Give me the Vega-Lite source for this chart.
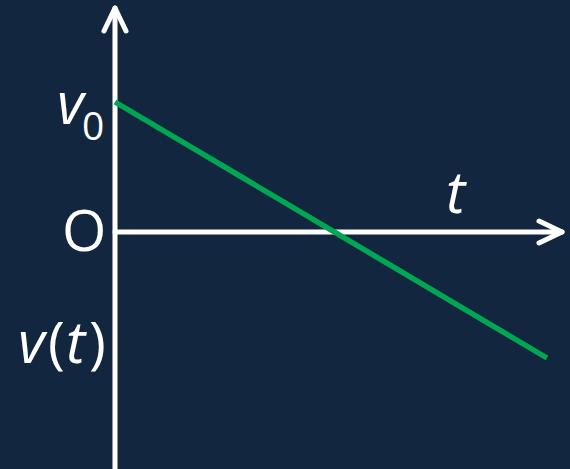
{
  "$schema": "https://vega.github.io/schema/vega-lite/v6.json",
  "width": 570,
  "height": 469,
  "padding": 0,
  "autosize": {"type": "none"},
  "background": "#12263F",
  "config": {"view": {"stroke": null}},
  "datasets": {
    "axes": [
      {"part": "vaxis", "k": 0, "t": 0, "v": -240},
      {"part": "vaxis", "k": 1, "t": 0, "v": 224},
      {"part": "haxis", "k": 0, "t": 0, "v": 0},
      {"part": "haxis", "k": 1, "t": 447, "v": 0},
      {"part": "varrow", "k": 0, "t": -11, "v": 201},
      {"part": "varrow", "k": 1, "t": 0, "v": 224},
      {"part": "varrow", "k": 2, "t": 11, "v": 201},
      {"part": "harrow", "k": 0, "t": 424, "v": 11},
      {"part": "harrow", "k": 1, "t": 447, "v": 0},
      {"part": "harrow", "k": 2, "t": 424, "v": -11}
    ],
    "motion": [
      {"t": 0, "v": 130},
      {"t": 432, "v": -126}
    ],
    "italic": [
      {"label": "v", "t": -58, "v": 108},
      {"label": "v", "t": -97, "v": -131},
      {"label": "t", "t": -49, "v": -131},
      {"label": "t", "t": 331, "v": 19}
    ],
    "upright": [
      {"label": "O", "t": -53, "v": -19},
      {"label": "(", "t": -67, "v": -131},
      {"label": ")", "t": -26, "v": -131}
    ],
    "subscript": [
      {"label": "0", "t": -33, "v": 92}
    ]
  },
  "encoding": {
    "x": {"field": "t", "type": "quantitative", "scale": {"domain": [-115, 455], "nice": false, "zero": false}, "axis": null},
    "y": {"field": "v", "type": "quantitative", "scale": {"domain": [-237, 232], "nice": false, "zero": false}, "axis": null}
  },
  "layer": [
    {
      "data": {"name": "axes"},
      "mark": {"type": "line", "color": "#FFFFFF", "strokeWidth": 5, "strokeCap": "round", "strokeJoin": "round"},
      "encoding": {"detail": {"field": "part"}, "order": {"field": "k", "type": "quantitative"}}
    },
    {
      "data": {"name": "motion"},
      "mark": {"type": "line", "color": "#00A651", "strokeWidth": 5.5, "strokeCap": "butt"},
      "encoding": {}
    },
    {
      "data": {"name": "italic"},
      "mark": {"type": "text", "font": "Open Sans", "fontStyle": "italic", "fontSize": 58, "color": "#FFFFFF", "align": "left", "baseline": "alphabetic"},
      "encoding": {"text": {"field": "label"}}
    },
    {
      "data": {"name": "upright"},
      "mark": {"type": "text", "font": "Open Sans", "fontSize": 57, "color": "#FFFFFF", "align": "left", "baseline": "alphabetic"},
      "encoding": {"text": {"field": "label"}}
    },
    {
      "data": {"name": "subscript"},
      "mark": {"type": "text", "font": "Open Sans", "fontSize": 39, "color": "#FFFFFF", "align": "left", "baseline": "alphabetic"},
      "encoding": {"text": {"field": "label"}}
    }
  ]
}
